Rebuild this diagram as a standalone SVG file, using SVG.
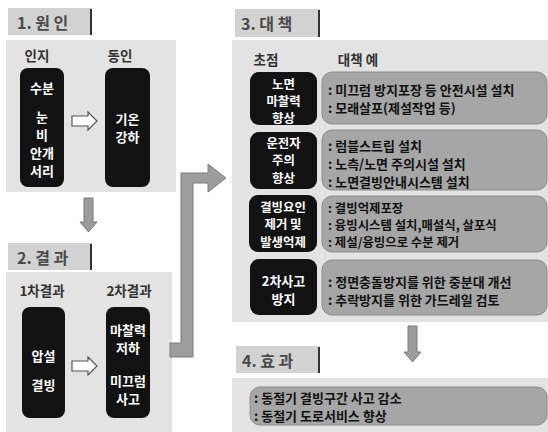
<svg xmlns="http://www.w3.org/2000/svg" width="548" height="432" viewBox="0 0 548 432">
<defs>
<style>
text{font-family:"Noto Sans CJK KR","Noto Sans",sans-serif;font-weight:bold}
.panel{fill:#e3e3e3}
.hdr{fill:#d2d2d2}
.hline{stroke:#333;stroke-width:2}
.ht{font-size:16px;fill:#4a4a4a}
.lbl{font-size:13.5px;fill:#333;text-anchor:middle}
.blk{fill:#121212}
.wt{font-size:13px;fill:#fff;text-anchor:middle}
.wts{font-size:12.4px;fill:#fff;text-anchor:middle}
.gbox{fill:#a6a6a6;stroke:#8c8c8c;stroke-width:1}
.gt{font-size:13px;fill:#111}
.gts{font-size:12.4px;fill:#111}
.hollow{fill:#fff;stroke:#555;stroke-width:1.2}
.garrow{fill:#9c9c9c;stroke:#7a7a7a;stroke-width:1}
</style>
</defs>
<rect width="548" height="432" fill="#ffffff"/>

<g id="panels">
<rect class="panel" x="6" y="40" width="170" height="152"/>
<rect class="panel" x="6" y="272" width="166" height="160"/>
<rect class="panel" x="232" y="40" width="316" height="282"/>
<rect class="panel" x="232" y="378" width="316" height="54"/>
</g>

<g id="header1">
<rect class="hdr" x="8" y="8" width="84" height="27"/>
<line class="hline" x1="91" y1="9" x2="91" y2="35"/>
<text class="ht" x="17" y="29">1. 원 인</text>
</g>
<g id="header2">
<rect class="hdr" x="8" y="243" width="84" height="27"/>
<line class="hline" x1="91" y1="244" x2="91" y2="270"/>
<text class="ht" x="17" y="264">2. 결 과</text>
</g>
<g id="header3">
<rect class="hdr" x="235" y="9" width="85" height="28"/>
<line class="hline" x1="319" y1="10" x2="319" y2="37"/>
<text class="ht" x="241" y="30">3. 대 책</text>
</g>
<g id="header4">
<rect class="hdr" x="236" y="346" width="84" height="27"/>
<line class="hline" x1="319" y1="347" x2="319" y2="373"/>
<text class="ht" x="242" y="367">4. 효 과</text>
</g>

<g id="labels">
<text class="lbl" x="37" y="61">인지</text>
<text class="lbl" x="120" y="61">동인</text>
<text class="lbl" x="42" y="296">1차결과</text>
<text class="lbl" x="129" y="296">2차결과</text>
<text class="lbl" x="266" y="65">초점</text>
<text class="lbl" x="358" y="65">대책 예</text>
</g>

<g id="cause-recognition">
<rect class="blk" x="20" y="68" width="44" height="119" rx="8"/>
<text class="wt" x="42" y="93">수분</text>
<text class="wt" x="42" y="122">눈</text>
<text class="wt" x="42" y="140">비</text>
<text class="wt" x="42" y="158">안개</text>
<text class="wt" x="42" y="176">서리</text>
</g>
<g id="cause-driver">
<rect class="blk" x="105" y="68" width="45" height="119" rx="8"/>
<text class="wt" x="127.5" y="124">기온</text>
<text class="wt" x="127.5" y="142">강하</text>
</g>
<g id="result-1st">
<rect class="blk" x="22" y="307" width="43" height="111" rx="8"/>
<text class="wt" x="43.5" y="361">압설</text>
<text class="wt" x="43.5" y="390">결빙</text>
</g>
<g id="result-2nd">
<rect class="blk" x="106" y="307" width="44" height="111" rx="8"/>
<text class="wt" x="128" y="335">마찰력</text>
<text class="wt" x="128" y="353">저하</text>
<text class="wt" x="128" y="386">미끄럼</text>
<text class="wt" x="128" y="404">사고</text>
</g>

<g id="focus-1">
<rect class="blk" x="250" y="72" width="67" height="53" rx="9"/>
<text class="wts" x="283.5" y="88.5">노면</text>
<text class="wts" x="283.5" y="105.7">마찰력</text>
<text class="wts" x="283.5" y="122.9">향상</text>
</g>
<g id="measure-1">
<rect class="gbox" x="322" y="72" width="225" height="52" rx="10"/>
<text class="gt" x="328" y="95">: 미끄럼 방지포장 등 안전시설 설치</text>
<text class="gt" x="328" y="113">: 모래살포(제설작업 등)</text>
</g>
<g id="focus-2">
<rect class="blk" x="250" y="132" width="67" height="57" rx="9"/>
<text class="wts" x="283.5" y="148">운전자</text>
<text class="wts" x="283.5" y="165.3">주의</text>
<text class="wts" x="283.5" y="182.6">향상</text>
</g>
<g id="measure-2">
<rect class="gbox" x="322" y="130" width="225" height="60" rx="10"/>
<text class="gt" x="328" y="151">: 럼블스트립 설치</text>
<text class="gt" x="328" y="169">: 노측/노면 주의시설 설치</text>
<text class="gt" x="328" y="187">: 노면결빙안내시스템 설치</text>
</g>
<g id="focus-3">
<rect class="blk" x="249" y="195" width="68" height="57" rx="9"/>
<text class="wts" x="283" y="212">결빙요인</text>
<text class="wts" x="283" y="229.3">제거 및</text>
<text class="wts" x="283" y="246.6">발생억제</text>
</g>
<g id="measure-3">
<rect class="gbox" x="322" y="196" width="225" height="56" rx="10"/>
<text class="gts" x="328" y="212.5">: 결빙억제포장</text>
<text class="gts" x="328" y="229.8">: 융빙시스템 설치,매설식, 살포식</text>
<text class="gts" x="328" y="247.1">: 제설/융빙으로 수분 제거</text>
</g>
<g id="focus-4">
<rect class="blk" x="250" y="259" width="67" height="56" rx="9"/>
<text class="wt" x="283.5" y="286">2차사고</text>
<text class="wt" x="283.5" y="304">방지</text>
</g>
<g id="measure-4">
<rect class="gbox" x="322" y="260" width="225" height="55" rx="10"/>
<text class="gt" x="328" y="287">: 정면충돌방지를 위한 중분대 개선</text>
<text class="gt" x="328" y="305">: 추락방지를 위한 가드레일 검토</text>
</g>

<g id="effect">
<rect class="gbox" x="250" y="387" width="297" height="38" rx="10"/>
<text class="gt" x="254" y="403">: 동절기 결빙구간 사고 감소</text>
<text class="gt" x="254" y="421">: 동절기 도로서비스 향상</text>
</g>

<g id="connectors">
<polygon class="hollow" points="72,116 88,116 88,112 97,121 88,130 88,126 72,126"/>
<polygon class="hollow" points="72,361 88,361 88,357 97,366 88,375 88,371 72,371"/>
<polygon class="garrow" points="84,198 93,198 93,222 97,222 88.5,232 80,222 84,222"/>
<polygon class="garrow" points="408,326 417,326 417,352 421,352 412.5,362 404,352 408,352"/>
<polygon class="garrow" points="170,343 181,343 181,173 208,173 208,164 226,178 208,192 208,183 193,183 193,357 170,357"/>
</g>
</svg>
